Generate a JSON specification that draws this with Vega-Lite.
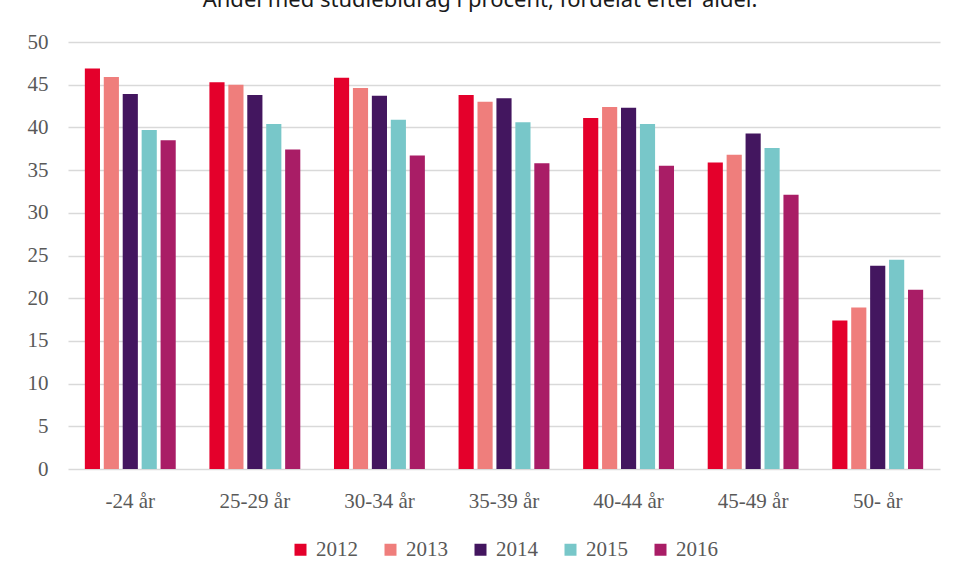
{
  "$schema": "https://vega.github.io/schema/vega-lite/v6.json",
  "width": 872,
  "height": 427,
  "autosize": {"type": "none"},
  "padding": {"left": 68, "top": 42, "right": 16, "bottom": 112},
  "background": "white",
  "title": {
    "text": "Andel med studiebidrag i procent, fördelat efter ålder.",
    "font": "Noto Sans",
    "fontSize": 22,
    "fontWeight": "normal",
    "color": "#1a1a1a",
    "anchor": "middle",
    "baseline": "alphabetic",
    "offset": 0,
    "dy": -2,
    "dx": -24
  },
  "data": {
    "values": [
      {"age": "-24 år", "year": "2012", "value": 46.9},
      {"age": "-24 år", "year": "2013", "value": 45.9},
      {"age": "-24 år", "year": "2014", "value": 43.9},
      {"age": "-24 år", "year": "2015", "value": 39.7},
      {"age": "-24 år", "year": "2016", "value": 38.5},
      {"age": "25-29 år", "year": "2012", "value": 45.3},
      {"age": "25-29 år", "year": "2013", "value": 45.0},
      {"age": "25-29 år", "year": "2014", "value": 43.8},
      {"age": "25-29 år", "year": "2015", "value": 40.4},
      {"age": "25-29 år", "year": "2016", "value": 37.4},
      {"age": "30-34 år", "year": "2012", "value": 45.8},
      {"age": "30-34 år", "year": "2013", "value": 44.6},
      {"age": "30-34 år", "year": "2014", "value": 43.7},
      {"age": "30-34 år", "year": "2015", "value": 40.9},
      {"age": "30-34 år", "year": "2016", "value": 36.7},
      {"age": "35-39 år", "year": "2012", "value": 43.8},
      {"age": "35-39 år", "year": "2013", "value": 43.0},
      {"age": "35-39 år", "year": "2014", "value": 43.4},
      {"age": "35-39 år", "year": "2015", "value": 40.6},
      {"age": "35-39 år", "year": "2016", "value": 35.8},
      {"age": "40-44 år", "year": "2012", "value": 41.1},
      {"age": "40-44 år", "year": "2013", "value": 42.4},
      {"age": "40-44 år", "year": "2014", "value": 42.3},
      {"age": "40-44 år", "year": "2015", "value": 40.4},
      {"age": "40-44 år", "year": "2016", "value": 35.5},
      {"age": "45-49 år", "year": "2012", "value": 35.9},
      {"age": "45-49 år", "year": "2013", "value": 36.8},
      {"age": "45-49 år", "year": "2014", "value": 39.3},
      {"age": "45-49 år", "year": "2015", "value": 37.6},
      {"age": "45-49 år", "year": "2016", "value": 32.1},
      {"age": "50- år", "year": "2012", "value": 17.4},
      {"age": "50- år", "year": "2013", "value": 18.9},
      {"age": "50- år", "year": "2014", "value": 23.8},
      {"age": "50- år", "year": "2015", "value": 24.5},
      {"age": "50- år", "year": "2016", "value": 21.0}
    ]
  },
  "mark": {"type": "bar"},
  "encoding": {
    "x": {
      "field": "age",
      "type": "nominal",
      "sort": null,
      "scale": {"paddingInner": 0.24, "paddingOuter": 0.12},
      "axis": {
        "title": null,
        "labelAngle": 0,
        "labelFont": "Liberation Serif",
        "labelFontSize": 21,
        "labelColor": "#595959",
        "labelPadding": 38,
        "labelBaseline": "alphabetic",
        "ticks": false,
        "domain": false
      }
    },
    "xOffset": {
      "field": "year",
      "type": "nominal",
      "scale": {"paddingInner": 0.2, "paddingOuter": 0.1}
    },
    "y": {
      "field": "value",
      "type": "quantitative",
      "scale": {"domain": [0, 50]},
      "axis": {
        "title": null,
        "values": [0, 5, 10, 15, 20, 25, 30, 35, 40, 45, 50],
        "labelFont": "Liberation Serif",
        "labelFontSize": 21,
        "labelColor": "#595959",
        "labelPadding": 20,
        "ticks": false,
        "domain": false,
        "grid": true,
        "gridColor": "#d9d9d9",
        "gridWidth": 1.5
      }
    },
    "color": {
      "field": "year",
      "type": "nominal",
      "scale": {
        "domain": ["2012", "2013", "2014", "2015", "2016"],
        "range": ["#E4002B", "#EF7E7C", "#43165F", "#78C7C9", "#A91D66"]
      },
      "legend": {
        "title": null,
        "orient": "bottom",
        "direction": "horizontal",
        "symbolType": "square",
        "symbolSize": 144,
        "symbolStrokeWidth": 0,
        "labelFont": "Liberation Serif",
        "labelFontSize": 21,
        "labelColor": "#595959",
        "labelOffset": 5,
        "columnPadding": 22,
        "offset": 28
      }
    }
  },
  "config": {
    "view": {"stroke": null},
    "legend": {"layout": {"bottom": {"anchor": "middle"}}}
  }
}
